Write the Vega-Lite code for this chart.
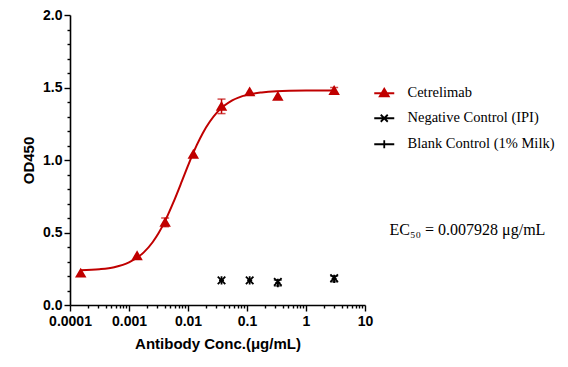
{
  "$schema": "https://vega.github.io/schema/vega-lite/v6.json",
  "autosize": "none",
  "padding": {"left": 70, "top": 15, "right": 203, "bottom": 62},
  "width": 295,
  "height": 290,
  "background": "white",
  "config": {
    "view": {"stroke": null},
    "axis": {"grid": false, "domainColor": "black", "domainWidth": 1.6, "tickColor": "black", "tickWidth": 1.4, "labelColor": "black", "titleColor": "black", "labelFont": "Liberation Sans", "titleFont": "Liberation Sans", "labelFontWeight": "bold", "titleFontWeight": "bold", "labelFontSize": 14, "titleFontSize": 15},
    "legend": {"title": null, "orient": "none", "legendX": 307, "legendY": 71, "labelFont": "Liberation Serif", "labelFontSize": 14.5, "labelColor": "black", "rowPadding": 10, "labelOffset": 16, "symbolSize": 100, "symbolStrokeWidth": 1.8, "symbolOpacity": 1}
  },
  "resolve": {"scale": {"shape": "independent", "color": "independent", "stroke": "independent"}},
  "datasets": {
    "pts": [
      {"conc": 0.000152, "od": 0.22, "err": null, "series": "Cetrelimab"},
      {"conc": 0.00137, "od": 0.34, "err": null, "series": "Cetrelimab"},
      {"conc": 0.0041, "od": 0.57, "err": 0.03, "series": "Cetrelimab"},
      {"conc": 0.0123, "od": 1.04, "err": null, "series": "Cetrelimab"},
      {"conc": 0.037, "od": 1.37, "err": 0.05, "series": "Cetrelimab"},
      {"conc": 0.111, "od": 1.47, "err": null, "series": "Cetrelimab"},
      {"conc": 0.333, "od": 1.44, "err": null, "series": "Cetrelimab"},
      {"conc": 3, "od": 1.48, "err": 0.02, "series": "Cetrelimab"},
      {"conc": 0.037, "od": 0.17, "err": null, "series": "Negative Control (IPI)"},
      {"conc": 0.111, "od": 0.17, "err": null, "series": "Negative Control (IPI)"},
      {"conc": 0.333, "od": 0.16, "err": null, "series": "Negative Control (IPI)"},
      {"conc": 3, "od": 0.185, "err": null, "series": "Negative Control (IPI)"},
      {"conc": 0.037, "od": 0.17, "err": null, "series": "Blank Control (1% Milk)"},
      {"conc": 0.111, "od": 0.17, "err": null, "series": "Blank Control (1% Milk)"},
      {"conc": 0.333, "od": 0.152, "err": 0.02, "series": "Blank Control (1% Milk)"},
      {"conc": 3, "od": 0.18, "err": 0.02, "series": "Blank Control (1% Milk)"}
    ],
    "curve": [
      {"conc": 0.000151, "od": 0.239},
      {"conc": 0.000316, "od": 0.2465},
      {"conc": 0.000562, "od": 0.261},
      {"conc": 0.001, "od": 0.294},
      {"conc": 0.001778, "od": 0.363},
      {"conc": 0.002512, "od": 0.433},
      {"conc": 0.003162, "od": 0.495},
      {"conc": 0.003981, "od": 0.570},
      {"conc": 0.005623, "od": 0.706},
      {"conc": 0.007943, "od": 0.8575},
      {"conc": 0.01, "od": 0.961},
      {"conc": 0.01122, "od": 1.011},
      {"conc": 0.01413, "od": 1.104},
      {"conc": 0.01778, "od": 1.185},
      {"conc": 0.03162, "od": 1.332},
      {"conc": 0.05623, "od": 1.411},
      {"conc": 0.1, "od": 1.449},
      {"conc": 0.1778, "od": 1.466},
      {"conc": 0.3162, "od": 1.474},
      {"conc": 1, "od": 1.479},
      {"conc": 3, "od": 1.48}
    ],
    "note": [
      {"conc": 26, "od": 0.52, "label": "EC₅₀ = 0.007928 μg/mL"}
    ]
  },
  "encoding": {
    "x": {"field": "conc", "type": "quantitative", "scale": {"type": "log", "domain": [0.0001, 10]},
      "axis": {"title": "Antibody Conc.(μg/mL)", "values": [0.0001,0.0002,0.0003,0.0004,0.0005,0.0006,0.0007,0.0008,0.0009,0.001,0.002,0.003,0.004,0.005,0.006,0.007,0.008,0.009,0.01,0.02,0.03,0.04,0.05,0.06,0.07,0.08,0.09,0.1,0.2,0.3,0.4,0.5,0.6,0.7,0.8,0.9,1,2,3,4,5,6,7,8,9,10],
        "labelExpr": "indexof([0.0001,0.001,0.01,0.1,1,10], datum.value) >= 0 ? (datum.value == 0.0001 ? '0.0001' : datum.value == 0.001 ? '0.001' : datum.value == 0.01 ? '0.01' : datum.value == 0.1 ? '0.1' : datum.value == 1 ? '1' : '10') : ''",
        "tickSize": {"condition": {"test": "indexof([0.0001,0.001,0.01,0.1,1,10], datum.value) >= 0", "value": 6}, "value": 3},
        "labelPadding": 3, "titlePadding": 8, "labelFlush": false, "labelOverlap": false}},
    "y": {"field": "od", "type": "quantitative", "scale": {"domain": [0, 2]},
      "axis": {"title": "OD450", "values": [0,0.1,0.2,0.3,0.4,0.5,0.6,0.7,0.8,0.9,1,1.1,1.2,1.3,1.4,1.5,1.6,1.7,1.8,1.9,2],
        "labelExpr": "indexof([0,0.5,1,1.5,2], datum.value) >= 0 ? format(datum.value, '.1f') : ''",
        "tickSize": {"condition": {"test": "indexof([0,0.5,1,1.5,2], datum.value) >= 0", "value": 6}, "value": 3},
        "labelPadding": 2, "titlePadding": 6, "labelFlush": false, "labelOverlap": false}}
  },
  "layer": [
    {
      "data": {"name": "curve"},
      "mark": {"type": "line", "color": "#c00000", "strokeWidth": 2, "interpolate": "monotone", "clip": false}
    },
    {
      "data": {"name": "pts"},
      "transform": [{"filter": "datum.err != null"}],
      "mark": {"type": "errorbar", "ticks": {"size": 8}, "thickness": 1.5},
      "encoding": {
        "yError": {"field": "err"},
        "color": {"field": "series", "type": "nominal", "scale": {"domain": ["Cetrelimab", "Negative Control (IPI)", "Blank Control (1% Milk)"], "range": ["#c00000", "black", "black"]}, "legend": null}
      }
    },
    {
      "data": {"name": "pts"},
      "mark": {"type": "point", "filled": true, "strokeWidth": 1.8, "opacity": 1, "clip": false},
      "encoding": {
        "color": {"field": "series", "type": "nominal", "scale": {"domain": ["Cetrelimab", "Negative Control (IPI)", "Blank Control (1% Milk)"], "range": ["#c00000", "black", "black"]}, "legend": null},
        "stroke": {"field": "series", "type": "nominal", "scale": {"domain": ["Cetrelimab", "Negative Control (IPI)", "Blank Control (1% Milk)"], "range": ["#c00000", "black", "black"]}, "legend": null},
        "shape": {"field": "series", "type": "nominal", "scale": {"domain": ["Cetrelimab", "Negative Control (IPI)", "Blank Control (1% Milk)"], "range": ["triangle-up", "M-0.9,-0.9L0.9,0.9M-0.9,0.9L0.9,-0.9", "M0,-1V1M-0.6,0H0.6"]}, "legend": null},
        "size": {"value": 70}
      }
    },
    {
      "data": {"name": "pts"},
      "transform": [{"filter": "false"}],
      "mark": {"type": "point", "filled": true, "strokeWidth": 1.8, "opacity": 1, "clip": false},
      "encoding": {
        "color": {"field": "series", "type": "nominal", "scale": {"domain": ["Cetrelimab", "Negative Control (IPI)", "Blank Control (1% Milk)"], "range": ["#c00000", "black", "black"]}},
        "stroke": {"field": "series", "type": "nominal", "scale": {"domain": ["Cetrelimab", "Negative Control (IPI)", "Blank Control (1% Milk)"], "range": ["#c00000", "black", "black"]}},
        "shape": {"field": "series", "type": "nominal", "scale": {"domain": ["Cetrelimab", "Negative Control (IPI)", "Blank Control (1% Milk)"], "range": ["M-2,0H2M0,-0.9L0.9,0.6H-0.9Z", "M-2,0H2M-0.7,-0.7L0.7,0.7M-0.7,0.7L0.7,-0.7", "M-2,0H2M0,-0.8V0.8"]}},
        "size": {"value": 100}
      }
    },
    {
      "data": {"name": "note"},
      "mark": {"type": "text", "align": "left", "baseline": "middle", "font": "Liberation Serif", "fontSize": 16, "color": "black", "clip": false},
      "encoding": {
        "text": {"field": "label"}
      }
    }
  ]
}
